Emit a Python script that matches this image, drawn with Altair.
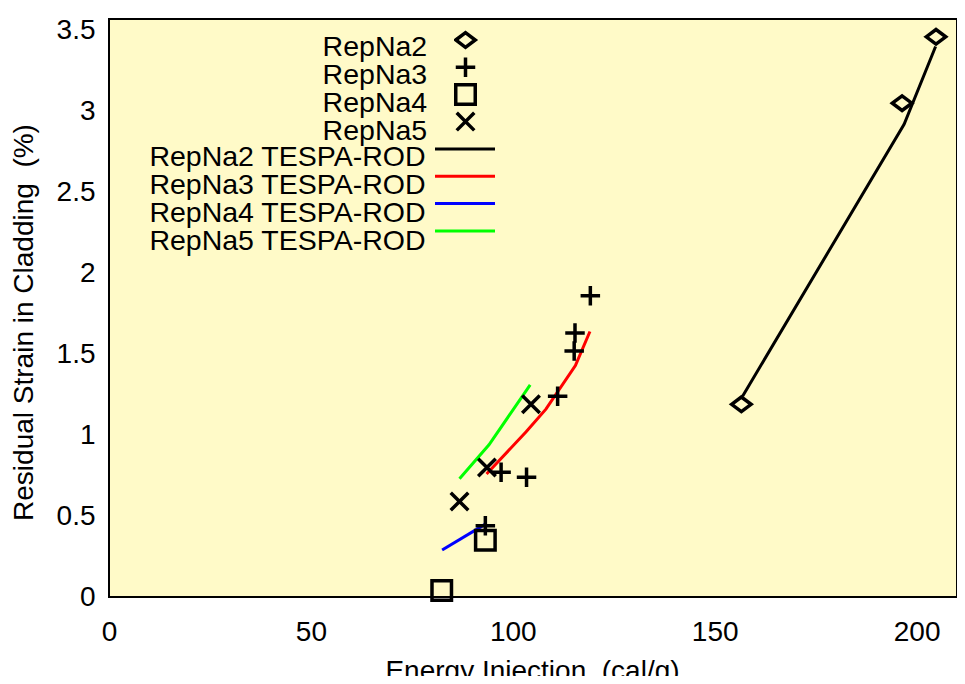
import altair as alt
import pandas as pd

# ---- measured points (Energy Injection cal/g, Residual strain %) ----
na2_x = [156.6, 196.4, 204.8]
na2_y = [1.19, 3.05, 3.46]
na3_x = [119.2, 115.4, 115.2, 111.1, 97.1, 103.4, 93.2]
na3_y = [1.86, 1.63, 1.52, 1.24, 0.77, 0.74, 0.44]
na4_x = [93.2, 82.4]
na4_y = [0.35, 0.04]
na5_x = [104.5, 93.6, 86.8]
na5_y = [1.19, 0.80, 0.59]

# ---- TESPA-ROD calculations ----
t2_x = [156.9, 196.9, 204.7]
t2_y = [1.24, 2.92, 3.40]
t3_x = [93.5, 103.3, 108.2, 115.5, 119.1]
t3_y = [0.76, 1.02, 1.16, 1.43, 1.64]
t4_x = [82.5, 93.2]
t4_y = [0.29, 0.45]
t5_x = [86.8, 94.1, 104.3]
t5_y = [0.73, 0.94, 1.31]

point_series = ["RepNa2", "RepNa3", "RepNa4", "RepNa5"]
line_series = ["RepNa2 TESPA-ROD", "RepNa3 TESPA-ROD", "RepNa4 TESPA-ROD", "RepNa5 TESPA-ROD"]
line_colors = ["#000000", "#ff0000", "#0000ff", "#00ff00"]
shapes = [
    "M-1,0L0,-0.75L1,0L0,0.75Z",      # diamond
    "M-1,0H1M0,-1V1",                  # plus
    "square",                          # square
    "M-0.9,-0.9L0.9,0.9M-0.9,0.9L0.9,-0.9",  # x
]

x_ticks = [0, 50, 100, 150, 200]
y_ticks = [0, 0.5, 1, 1.5, 2, 2.5, 3, 3.5]

pts = pd.DataFrame(
    [(s, s, x, y) for s, xs, ys in zip(point_series, [na2_x, na3_x, na4_x, na5_x], [na2_y, na3_y, na4_y, na5_y])
     for x, y in zip(xs, ys)],
    columns=["series", "series_lbl", "x", "y"],
)
lns = pd.DataFrame(
    [(s, s, x, y) for s, xs, ys in zip(line_series, [t2_x, t3_x, t4_x, t5_x], [t2_y, t3_y, t4_y, t5_y])
     for x, y in zip(xs, ys)],
    columns=["model", "model_lbl", "x", "y"],
)

FONT = "Liberation Sans"
NB = "\u00a0"

x_enc = alt.X(
    "x:Q",
    scale=alt.Scale(domain=[0, 210], nice=False, zero=False),
    axis=alt.Axis(
        values=x_ticks, title="Energy Injection" + NB + " (cal/g)", grid=False, ticks=False, tickSize=0,
        domain=False, labelFlush=False, labelFontSize=28, labelPadding=21, labelFont=FONT,
        labelColor="black", titleFont=FONT, titleFontSize=28, titleFontWeight="normal",
        titleColor="black", titleBaseline="top", titleY=60, titleX=423,
    ),
)
y_enc = alt.Y(
    "y:Q",
    scale=alt.Scale(domain=[0, 3.57], nice=False),
    axis=alt.Axis(
        values=y_ticks, labelExpr="'' + datum.value", title="Residual Strain in Cladding" + NB + " (%)",
        grid=False, ticks=False, tickSize=0, domain=False, labelFlush=False, labelFontSize=28,
        labelPadding=14, labelFont=FONT, labelColor="black", titleFont=FONT, titleFontSize=28,
        titleFontWeight="normal", titleColor="black", titleBaseline="middle", titleX=-85, titleY=303,
    ),
)


def symbol_legend(x, y, **kw):
    return alt.Legend(
        title=None, orient="none", legendX=x, legendY=y, padding=0,
        labelExpr="''", labelFontSize=1, labelOpacity=0, symbolOpacity=1,
        clipHeight=27, **kw,
    )


def label_legend(x, y, pad):
    return alt.Legend(
        title=None, orient="none", legendX=x, legendY=y, padding=0,
        labelAlign="right", labelOffset=0, labelBaseline="middle", labelFontSize=28.5,
        labelFont=FONT, labelColor="black", labelLimit=600,
        symbolSize=1, symbolStrokeWidth=0, symbolOpacity=0, clipHeight=27, rowPadding=pad,
    )


lines = alt.Chart(lns).mark_line(strokeWidth=3).encode(
    x=x_enc,
    y=y_enc,
    color=alt.Color(
        "model:N",
        scale=alt.Scale(domain=line_series, range=line_colors),
        legend=symbol_legend(324.5, 116.5, symbolType="stroke", symbolSize=3600,
                             symbolStrokeWidth=3, rowPadding=0.3),
    ),
    opacity=alt.Opacity(
        "model_lbl:N",
        scale=alt.Scale(domain=line_series, range=[1, 1, 1, 1]),
        legend=label_legend(288, 124.7, -5),
    ),
)

points = alt.Chart(pts).mark_point(filled=False, color="black", strokeWidth=3.5, size=380).encode(
    x=x_enc,
    y=y_enc,
    shape=alt.Shape(
        "series:N",
        scale=alt.Scale(domain=point_series, range=shapes),
        legend=symbol_legend(345, 7.5, symbolSize=380, symbolStrokeWidth=3.5,
                             symbolStrokeColor="black", symbolFillColor="transparent",
                             rowPadding=0.2),
    ),
    opacity=alt.Opacity(
        "series_lbl:N",
        scale=alt.Scale(domain=point_series, range=[1, 1, 1, 1]),
        legend=label_legend(289.7, 14.7, -5),
    ),
)

chart = (
    alt.layer(lines, points)
    .resolve_scale(opacity="independent")
    .resolve_legend(opacity="independent")
    .properties(
        width=848, height=578,
        autosize=alt.AutoSizeParams(type="none"),
        padding={"left": 101, "top": 11, "right": 0, "bottom": 79},
        background="white",
    )
    .configure_view(fill="#fffac8", stroke="black", strokeWidth=2)
)

chart.save("out.html", embed_options={"renderer": "svg", "actions": False})
